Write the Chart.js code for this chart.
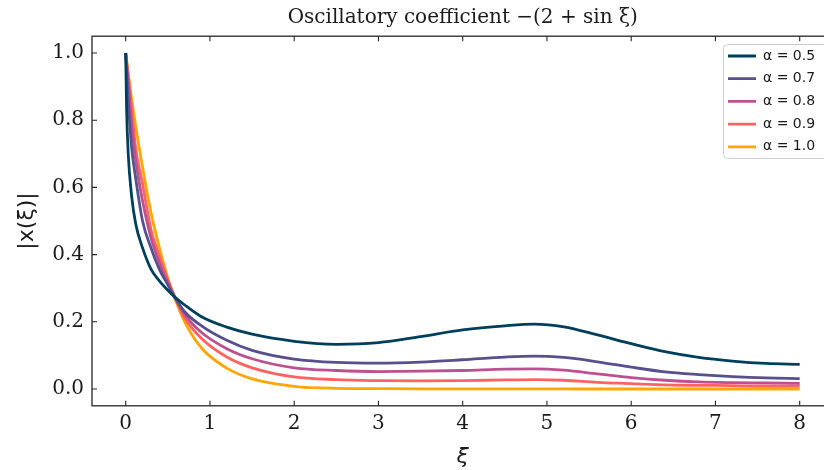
<!DOCTYPE html>
<html>
<head>
<meta charset="utf-8">
<script src="https://cdn.jsdelivr.net/npm/chart.js@4.4.1/dist/chart.umd.min.js"></script>
<style>
  html, body { margin: 0; padding: 0; background: #fff; overflow: hidden; }
  #wrap { width: 824px; height: 470px; overflow: hidden; }
  canvas { display: block; }
</style>
</head>
<body>
<div id="wrap"><canvas id="chart" width="840" height="470"></canvas></div>
<script>
// xi sample positions (denser near 0 where curves drop fast)
const XI = [0, 0.01, 0.03, 0.07, 0.12, 0.2, 0.3, 0.4, 0.5, 0.59, 0.7, 0.9, 1.2, 1.5,
  2.0, 2.5, 3.0, 3.5, 4.0, 4.5, 4.85, 5.2, 5.6, 6.0, 6.4, 6.8, 7.2, 7.6, 8.0];

const Y_A05 = [1.0, 0.84, 0.70, 0.575, 0.49, 0.42, 0.357, 0.322, 0.294, 0.272, 0.25, 0.215, 0.184, 0.163,
  0.142, 0.133, 0.138, 0.156, 0.176, 0.188, 0.193, 0.185, 0.161, 0.135, 0.111, 0.094, 0.083, 0.076, 0.0735];
const Y_A07 = [1.0, 0.95, 0.86, 0.72, 0.625, 0.50, 0.42, 0.356, 0.31, 0.27, 0.23, 0.188, 0.145, 0.115,
  0.089, 0.079, 0.077, 0.080, 0.087, 0.095, 0.098, 0.094, 0.081, 0.065, 0.051, 0.043, 0.037, 0.033, 0.031];
const Y_A08 = [1.0, 0.97, 0.91, 0.79, 0.68, 0.56, 0.45, 0.375, 0.317, 0.27, 0.222, 0.168, 0.12, 0.09,
  0.063, 0.055, 0.052, 0.053, 0.055, 0.059, 0.06, 0.056, 0.045, 0.034, 0.026, 0.021, 0.019, 0.018, 0.017];
const Y_A09 = [1.0, 0.975, 0.935, 0.835, 0.715, 0.61, 0.475, 0.395, 0.325, 0.27, 0.212, 0.15, 0.095, 0.063,
  0.036, 0.028, 0.025, 0.024, 0.025, 0.027, 0.028, 0.026, 0.02, 0.016, 0.012, 0.011, 0.01, 0.009, 0.009];
const Y_A10 = [1.0, 0.98, 0.94, 0.865, 0.78, 0.66, 0.525, 0.42, 0.33, 0.265, 0.2, 0.122, 0.062, 0.03,
  0.008, 0.002, 0.001, 0.0005, 0.0003, 0.0002, 0.0001, 0.0001, 0, 0, 0, 0, 0, 0, 0];

const SERIES = [Y_A05, Y_A07, Y_A08, Y_A09, Y_A10];
const ALPHAS = ["0.5", "0.7", "0.8", "0.9", "1.0"];
const COLORS = ["#003f5c", "#58508d", "#bc5090", "#ff6361", "#ffa600"];

const X_TICKS = [0, 1, 2, 3, 4, 5, 6, 7, 8];
const Y_TICKS = [0, 0.2, 0.4, 0.6, 0.8, 1.0];

const INK = "#1a1a1a";
const SERIF = "'DejaVu Serif', serif";
const SANS = "'DejaVu Sans', sans-serif";

// matplotlib-style frame: box on all four sides, ticks pointing inward
const frame = {
  id: "frame",
  afterDatasetsDraw(chart) {
    const { ctx, chartArea: a, scales: { x, y } } = chart;
    ctx.save();
    ctx.strokeStyle = "#262626";
    ctx.lineWidth = 1.3;
    ctx.strokeRect(a.left, a.top, a.right - a.left, a.bottom - a.top);
    ctx.lineWidth = 1.1;
    ctx.beginPath();
    for (const v of X_TICKS) {
      const px = x.getPixelForValue(v);
      ctx.moveTo(px, a.bottom); ctx.lineTo(px, a.bottom - 5);
      ctx.moveTo(px, a.top); ctx.lineTo(px, a.top + 5);
    }
    for (const v of Y_TICKS) {
      const py = y.getPixelForValue(v);
      ctx.moveTo(a.left, py); ctx.lineTo(a.left + 5, py);
      ctx.moveTo(a.right, py); ctx.lineTo(a.right - 5, py);
    }
    ctx.stroke();
    ctx.restore();
  },
};

// put the legend in the upper-right corner of the axes, with a framed box behind it
const LEGEND_BOX = { left: 723, top: 44, right: 830, bottom: 158 };
const legendPlace = {
  id: "legendPlace",
  afterLayout(chart) {
    const lg = chart.legend;
    lg.left = 719.3;
    lg.top = 40.3;
    lg.width = 110;
    lg.height = 160;
    lg.right = lg.left + lg.width;
    lg.bottom = lg.top + lg.height;
  },
  beforeDraw(chart) {
    const ctx = chart.ctx;
    const b = LEGEND_BOX;
    ctx.save();
    ctx.beginPath();
    ctx.roundRect(b.left + 0.5, b.top + 0.5, b.right - b.left, b.bottom - b.top, 4);
    ctx.fillStyle = "rgba(255,255,255,0.8)";
    ctx.fill();
    ctx.strokeStyle = "#cccccc";
    ctx.lineWidth = 1;
    ctx.stroke();
    ctx.restore();
  },
};

new Chart(document.getElementById("chart"), {
  type: "line",
  data: {
    datasets: SERIES.map((ys, i) => ({
      label: `α = ${ALPHAS[i]}`,
      data: XI.map((xv, j) => ({ x: xv, y: ys[j] })),
      borderColor: COLORS[i],
      backgroundColor: COLORS[i],
      borderWidth: 2.8,
      pointRadius: 0,
      cubicInterpolationMode: "monotone",
      fill: false,
    })),
  },
  options: {
    responsive: false,
    animation: false,
    devicePixelRatio: 1,
    layout: { padding: { left: 0, right: 6.6, top: 0, bottom: 0 } },
    scales: {
      x: {
        type: "linear",
        min: -0.4,
        max: 8.4,
        grid: { display: false, drawTicks: false },
        border: { display: false },
        afterBuildTicks: (s) => { s.ticks = X_TICKS.map((v) => ({ value: v })); },
        afterFit: (s) => { s.height = 64.2; },
        ticks: {
          font: { family: SERIF, size: 20 },
          color: INK,
          padding: 6,
          maxRotation: 0,
          callback: (v) => String(v),
        },
        title: {
          display: true,
          text: "ξ",
          font: { family: SANS, size: 22, style: "italic" },
          color: INK,
          padding: { top: 0, bottom: 0 },
        },
      },
      y: {
        type: "linear",
        min: -0.05,
        max: 1.05,
        grid: { display: false, drawTicks: false },
        border: { display: false },
        afterBuildTicks: (s) => { s.ticks = Y_TICKS.map((v) => ({ value: v })); },
        afterFit: (s) => { s.width = 92; },
        ticks: {
          font: { family: SERIF, size: 20 },
          color: INK,
          padding: 8,
          callback: (v) => v.toFixed(1),
        },
        title: {
          display: true,
          text: "|x(ξ)|",
          font: { family: SANS, size: 22 },
          color: INK,
          padding: { top: 14, bottom: 0 },
        },
      },
    },
    plugins: {
      title: {
        display: true,
        text: "Oscillatory coefficient −(2 + sin ξ)",
        fullSize: false,
        font: { family: SERIF, size: 20, weight: "normal" },
        color: INK,
        padding: { top: 6, bottom: 6.2 },
      },
      legend: {
        position: "chartArea",
        align: "start",
        labels: {
          usePointStyle: true,
          pointStyle: "line",
          pointStyleWidth: 28,
          padding: 8.7,
          color: INK,
          font: { family: SANS, size: 14 },
        },
      },
      tooltip: { enabled: false },
    },
  },
  plugins: [frame, legendPlace],
});
</script>
</body>
</html>
